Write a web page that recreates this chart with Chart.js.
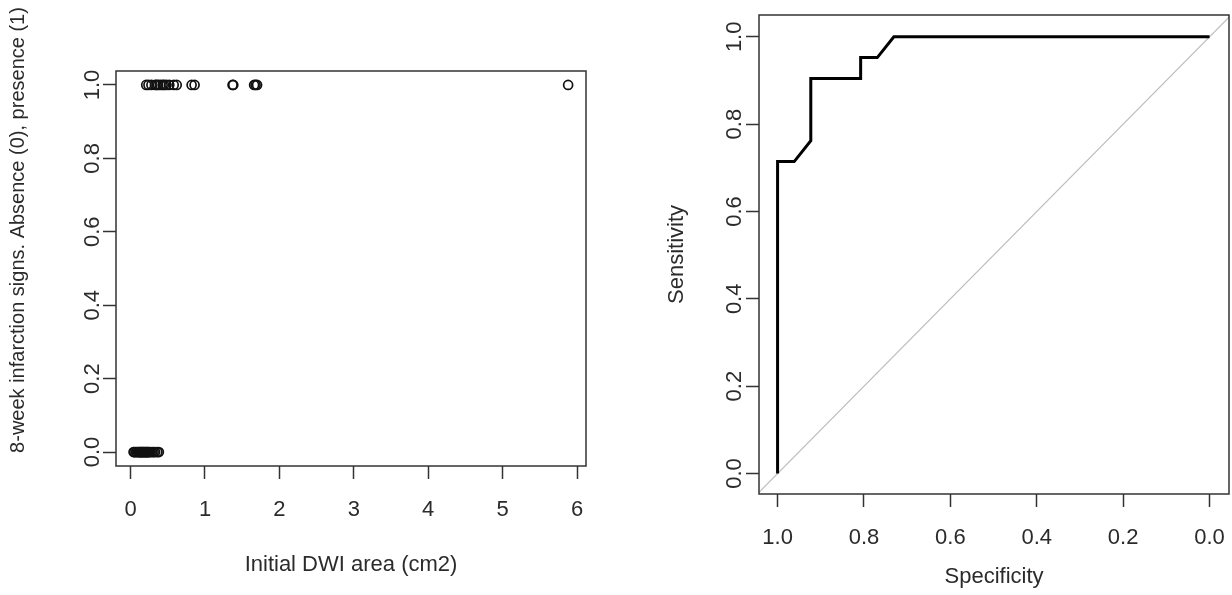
<!DOCTYPE html>
<html lang="en">
<head>
<meta charset="UTF-8">
<title>Initial DWI area and ROC curve</title>
<script src="https://cdn.jsdelivr.net/npm/chart.js"></script>
<style>
  body { margin: 0; background: #fff; overflow: hidden; width: 1232px; height: 595px; position: relative; }
  .panel { position: absolute; top: 0; }
</style>
</head>
<body>
<div class="panel" style="left:0"><canvas id="areaChart" width="616" height="595"></canvas></div>
<div class="panel" style="left:616px"><canvas id="rocChart" width="640" height="595"></canvas></div>
<script>
// left panel: initial DWI area (cm2) by outcome at 8 weeks
const areaPresent = [0.21, 0.24, 0.28, 0.33, 0.35, 0.37, 0.40, 0.43, 0.45, 0.48, 0.52,
                     0.58, 0.62, 0.82, 0.86, 1.37, 1.38, 1.66, 1.68, 1.70, 5.88];
const areaAbsent = [0.04, 0.05, 0.07, 0.08, 0.10, 0.11, 0.12, 0.13, 0.14, 0.15, 0.16, 0.17, 0.18,
                    0.19, 0.20, 0.21, 0.22, 0.23, 0.24, 0.25, 0.27, 0.29, 0.31, 0.33, 0.36, 0.38];
const areaTicks = [0, 1, 2, 3, 4, 5, 6];
const probTicks = [0, 0.2, 0.4, 0.6, 0.8, 1];

// right panel: ROC curve
const rocSpecificity = [1, 1, 0.9615, 0.9231, 0.9231, 0.8077, 0.8077, 0.7692, 0.7308, 0];
const rocSensitivity = [0, 0.7143, 0.7143, 0.7619, 0.9048, 0.9048, 0.9524, 0.9524, 1, 1];

// axis limits (R style 4% extension)
const areaMin = -0.196, areaMax = 6.12;
const outcomeMin = -0.038, outcomeMax = 1.038;
const specMin = -0.045, specMax = 1.043;
const sensMin = -0.047, sensMax = 1.05;

Chart.defaults.font.family = '"Liberation Sans", Arial, sans-serif';
Chart.defaults.font.size = 22;
Chart.defaults.color = '#2b2b2b';

const plotBox = {
  id: 'plotBox',
  afterDatasetsDraw(chart) {
    const a = chart.chartArea, ctx = chart.ctx;
    ctx.save();
    ctx.strokeStyle = '#333';
    ctx.lineWidth = 1.5;
    ctx.strokeRect(a.left, a.top, a.right - a.left, a.bottom - a.top);
    ctx.restore();
  }
};

// rotated y title, placed where the original has it
const sideTitle = {
  id: 'sideTitle',
  afterDraw(chart, args, opts) {
    if (!opts.text) return;
    const ctx = chart.ctx;
    ctx.save();
    ctx.translate(opts.x, opts.y);
    ctx.rotate(-Math.PI / 2);
    ctx.font = opts.size + 'px "Liberation Sans", Arial, sans-serif';
    ctx.fillStyle = '#2b2b2b';
    ctx.textAlign = 'center';
    ctx.textBaseline = 'middle';
    ctx.fillText(opts.text, 0, 0);
    ctx.restore();
  }
};

function tickGrid() {
  return { display: true, drawOnChartArea: false, drawTicks: true, tickLength: 13, tickColor: '#333', tickWidth: 1.5 };
}

function fixedTicks(vals) {
  return function (scale) { scale.ticks = vals.map(v => ({ value: v })); };
}

// scatter
new Chart(document.getElementById('areaChart'), {
  type: 'scatter',
  data: {
    datasets: [{
      data: areaPresent.map(v => ({ x: v, y: 1 })).concat(areaAbsent.map(v => ({ x: v, y: 0 }))),
      pointStyle: 'circle',
      pointRadius: 4.5,
      borderWidth: 1.7,
      borderColor: '#111',
      backgroundColor: 'rgba(0,0,0,0)'
    }]
  },
  options: {
    responsive: false,
    animation: false,
    layout: { padding: { left: 0, top: 71, right: 30, bottom: 0 } },
    plugins: {
      legend: { display: false },
      tooltip: { enabled: false },
      sideTitle: { text: '8-week infarction signs. Absence (0), presence (1)', x: 18, y: 230, size: 20 }
    },
    scales: {
      x: {
        type: 'linear', min: areaMin, max: areaMax,
        afterBuildTicks: fixedTicks(areaTicks),
        afterFit: s => { s.height = 129; },
        grid: tickGrid(), border: { display: false },
        ticks: { padding: 18, maxRotation: 0, autoSkip: false, callback: v => String(v) },
        title: { display: true, text: 'Initial DWI area (cm2)', padding: { top: 0, bottom: 17 } }
      },
      y: {
        type: 'linear', min: outcomeMin, max: outcomeMax,
        afterBuildTicks: fixedTicks(probTicks),
        afterFit: s => { s.width = 116; },
        grid: tickGrid(), border: { display: false },
        ticks: { padding: -5, minRotation: 90, maxRotation: 90, crossAlign: 'center', autoSkip: false, callback: v => v.toFixed(1) }
      }
    }
  },
  plugins: [plotBox, sideTitle]
});

// ROC
new Chart(document.getElementById('rocChart'), {
  type: 'scatter',
  data: {
    datasets: [{
      data: rocSpecificity.map((s, i) => ({ x: s, y: rocSensitivity[i] })),
      showLine: true,
      borderColor: '#000',
      borderWidth: 3,
      pointRadius: 0,
      tension: 0
    }, {
      // chance line y = 1 - x across the whole plot
      data: [{ x: specMax, y: 1 - specMax }, { x: specMin, y: 1 - specMin }],
      showLine: true,
      borderColor: '#bdbdbd',
      borderWidth: 1.2,
      pointRadius: 0
    }]
  },
  options: {
    responsive: false,
    animation: false,
    layout: { padding: { left: 0, top: 15, right: 27, bottom: 0 } },
    plugins: { legend: { display: false }, tooltip: { enabled: false } },
    scales: {
      x: {
        type: 'linear', min: specMin, max: specMax, reverse: true,
        afterBuildTicks: fixedTicks(probTicks),
        afterFit: s => { s.height = 101; },
        grid: tickGrid(), border: { display: false },
        ticks: { padding: 18, maxRotation: 0, autoSkip: false, callback: v => v.toFixed(1) },
        title: { display: true, text: 'Specificity', padding: { top: 0, bottom: 5 } }
      },
      y: {
        type: 'linear', min: sensMin, max: sensMax,
        afterBuildTicks: fixedTicks(probTicks),
        afterFit: s => { s.width = 143; },
        grid: tickGrid(), border: { display: false },
        ticks: { padding: -4, minRotation: 90, maxRotation: 90, crossAlign: 'center', autoSkip: false, callback: v => v.toFixed(1) },
        title: { display: true, text: 'Sensitivity', padding: { top: 48, bottom: 0 } }
      }
    }
  },
  plugins: [plotBox]
});
</script>
</body>
</html>
